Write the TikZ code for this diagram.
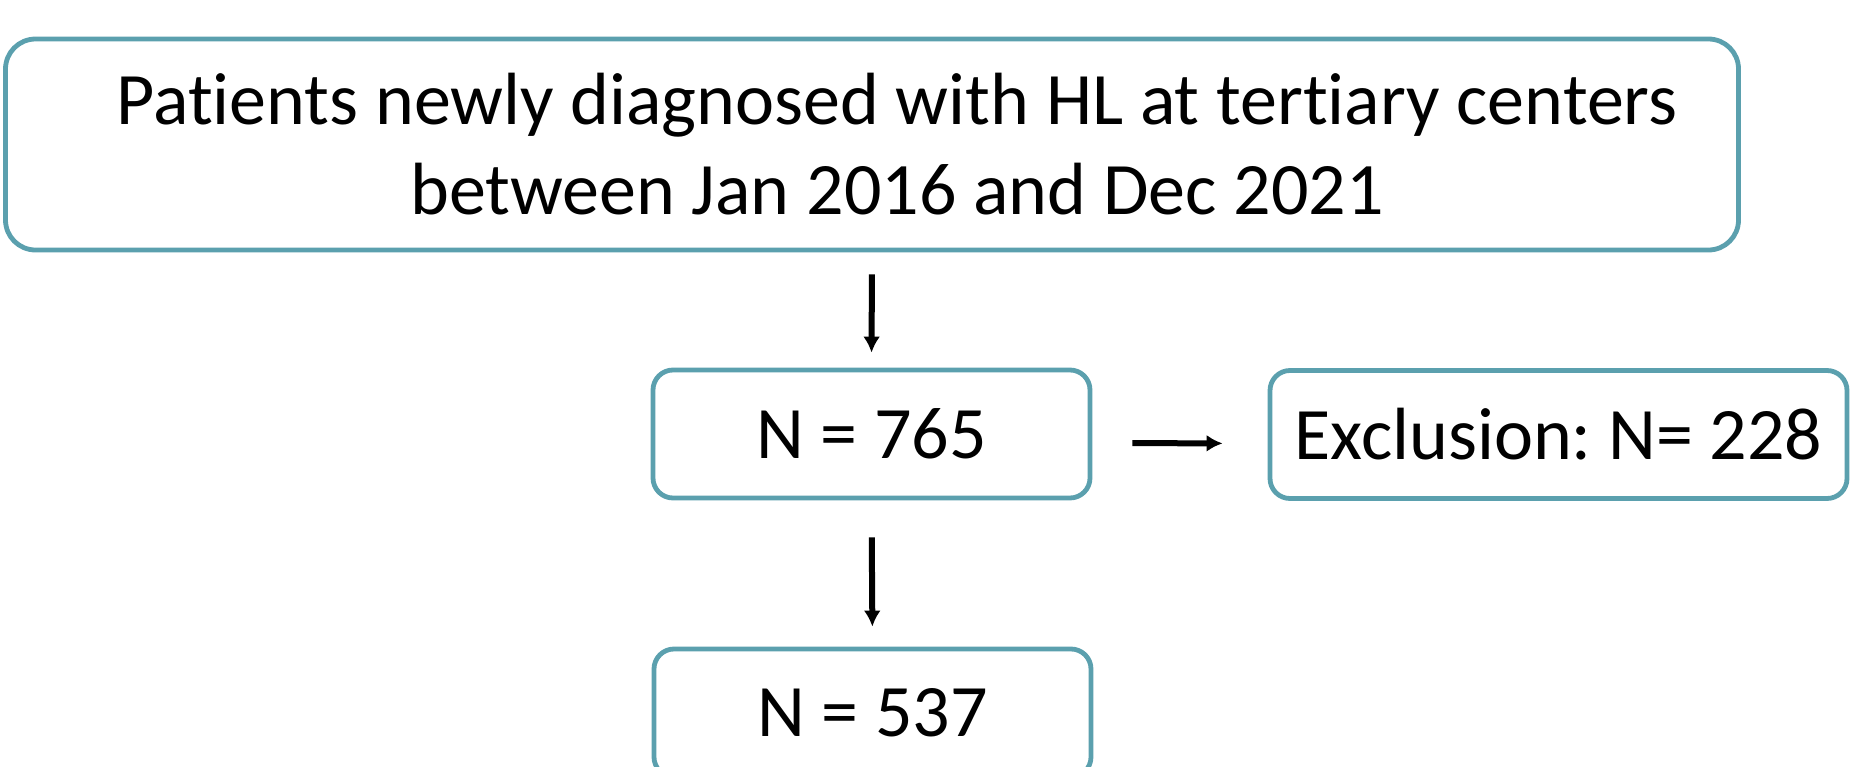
\documentclass[tikz,border=0pt]{standalone}
\usepackage{fontspec}
\setmainfont{Carlito}[Ligatures=NoCommon]
\frenchspacing
\usepackage{tikz}
\usetikzlibrary{
  arrows.meta,%
  positioning
}
\definecolor{boxteal}{RGB}{91,160,174}
\tikzset{>={Latex[length=8pt,width=8.5pt]}}
\tikzset{flowbox/.style={draw=boxteal, line width=2.4pt, rounded corners=10pt,
    fill=white, inner sep=0pt, align=center,
    font=\fontsize{37}{45}\selectfont}}
\tikzset{flowarrow/.style={->, line width=3pt}}

\begin{document}
\begin{tikzpicture}[x=0.5pt,y=-0.5pt]
  \useasboundingbox (0,0) rectangle (1853,766);
  % boxes, placed at pixel positions
  \node[flowbox, rounded corners=15pt, minimum width=866.5pt, minimum height=105.5pt]
    (pool) at (872,144.5)
    {\hspace*{25pt}Patients newly diagnosed with HL at tertiary centers\\
     \hspace*{25pt}between Jan 2016 and Dec 2021};
  \node[flowbox, minimum width=218.5pt, minimum height=64pt]
    (total) at (871.5,434) {N = 765};
  \node[flowbox, minimum width=288.5pt, minimum height=64pt]
    (excl) at (1558.5,434.5) {Exclusion: N= 228};
  \node[flowbox, minimum width=218.5pt, minimum height=64pt]
    (final) at (872.5,713) {N = 537};
  % arrows
  \draw[flowarrow, shorten <=11pt, shorten >=7.5pt] (pool.south) -- (total.north);
  \draw[flowarrow, shorten <=18.5pt, shorten >=10pt] (total.south) -- (final.north);
  \draw[flowarrow, shorten <=20pt, shorten >=22.5pt]
    ([yshift=-4.5pt]total.east) -- ([yshift=-4.5pt]excl.west);
\end{tikzpicture}
\end{document}
